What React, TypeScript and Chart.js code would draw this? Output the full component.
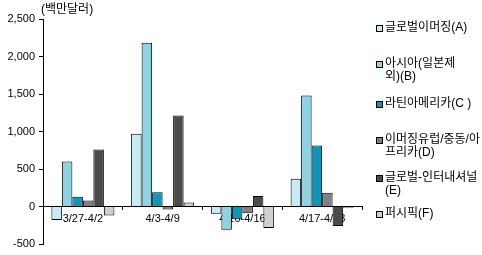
import React, { useEffect, useRef } from "react";
import { Chart, registerables } from "chart.js";

Chart.register(...registerables);

const categories = ["3/27-4/2", "4/3-4/9", "4/10-4/16", "4/17-4/23"];
const seriesNames = [
  "글로벌이머징(A)",
  "아시아(일본제외)(B)",
  "라틴아메리카(C )",
  "이머징유럽/중동/아프리카(D)",
  "글로벌-인터내셔널(E)",
  "퍼시픽(F)",
];
const legendLines = [
  ["글로벌이머징(A)"],
  ["아시아(일본제", "외)(B)"],
  ["라틴아메리카(C )"],
  ["이머징유럽/중동/아", "프리카(D)"],
  ["글로벌-인터내셔널", "(E)"],
  ["퍼시픽(F)"],
];
const seriesA = [-180, 970, -95, 370];
const seriesB = [600, 2185, -310, 1480];
const seriesC = [130, 190, -170, 815];
const seriesD = [80, -40, -90, 185];
const seriesE = [760, 1215, 140, -260];
const seriesF = [-120, 55, -285, -15];
const seriesValues = [seriesA, seriesB, seriesC, seriesD, seriesE, seriesF];
const colors = ["#c6ebf4", "#8ed2e3", "#0f95b7", "#808080", "#4b4b4b", "#d0d0d0"];
const yMin = -500;
const yMax = 2500;
const yStep = 500;
const unitLabel = "(백만달러)";

const FONT = "'Liberation Sans', 'Noto Sans CJK KR', sans-serif";
const legendTops = [20, 56, 96, 132, 170, 206];

export default function App() {
  const ref = useRef<HTMLCanvasElement | null>(null);
  useEffect(() => {
    if (!ref.current) return;
    const chart = new Chart(ref.current, {
      type: "bar",
      data: {
        labels: categories,
        datasets: seriesValues.map((vals, i) => ({
          label: seriesNames[i],
          data: vals,
          backgroundColor: colors[i],
          borderColor: "#000000",
          borderWidth: 1,
          categoryPercentage: 0.79,
          barPercentage: 1,
        })),
      },
      options: {
        responsive: false,
        animation: false,
        devicePixelRatio: 1,
        layout: { padding: { top: 19, bottom: 11, right: 120, left: 0 } },
        plugins: { legend: { display: false }, tooltip: { enabled: false } },
        scales: {
          x: {
            position: { y: 0 },
            grid: {
              offset: true,
              drawOnChartArea: false,
              tickLength: 3,
              color: "#000000",
            },
            border: { color: "#000000", width: 1 },
            ticks: {
              color: "#000000",
              font: { family: FONT, size: 11 },
              padding: 3,
              maxRotation: 0,
            },
          },
          y: {
            min: yMin,
            max: yMax,
            afterFit: (s: any) => {
              s.width = 43;
            },
            grid: { drawOnChartArea: false, tickLength: 4, color: "#000000" },
            border: { color: "#000000", width: 1 },
            ticks: {
              stepSize: yStep,
              color: "#000000",
              font: { family: FONT, size: 11 },
              padding: 4,
              callback: (v: any) => Number(v).toLocaleString("en-US"),
            },
          },
        },
      },
    });
    return () => chart.destroy();
  }, []);

  return (
    <div
      style={{
        position: "absolute",
        left: 0,
        top: 0,
        width: 482,
        height: 255,
        background: "#ffffff",
        fontFamily: FONT,
        fontSize: 12,
        color: "#000000",
      }}
    >
      <canvas ref={ref} width={482} height={255} style={{ width: 482, height: 255, display: "block" }} />
      <div style={{ position: "absolute", left: 41, top: 2, lineHeight: "15px", whiteSpace: "nowrap" }}>
        {unitLabel}
      </div>
      {legendLines.map((lines, i) => (
        <div key={i} style={{ position: "absolute", left: 376, top: legendTops[i] }}>
          <div
            style={{
              position: "absolute",
              left: 0,
              top: 5,
              width: 5,
              height: 5,
              background: colors[i],
              border: "1px solid #000000",
            }}
          />
          {lines.map((t, j) => (
            <div
              key={j}
              style={{ position: "absolute", left: 9, top: j * 13, lineHeight: "15px", whiteSpace: "nowrap" }}
            >
              {t}
            </div>
          ))}
        </div>
      ))}
    </div>
  );
}
